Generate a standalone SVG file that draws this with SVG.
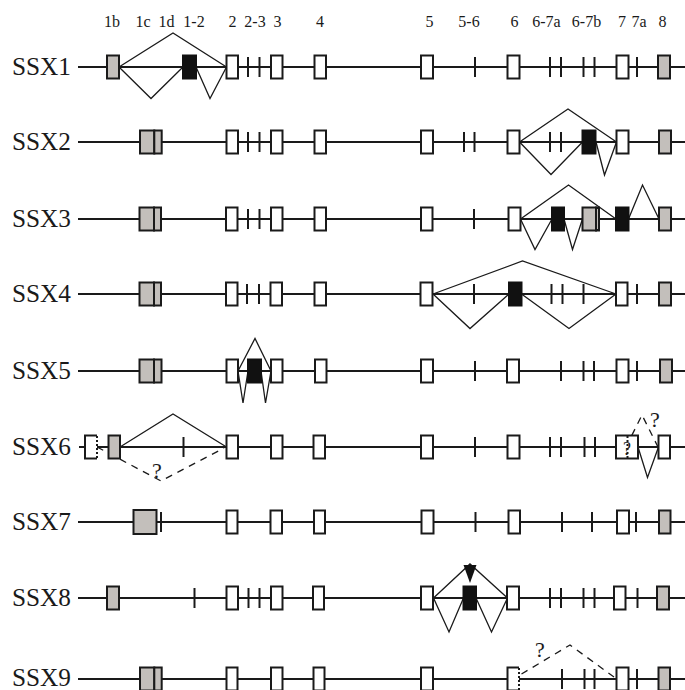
<svg xmlns="http://www.w3.org/2000/svg" width="685" height="690" viewBox="0 0 685 690">
<style>
.bb{stroke:#1a1a1a;stroke-width:2;fill:none}
.ex{fill:#fff;stroke:#1a1a1a;stroke-width:2}
.gr{fill:#c3bfbb;stroke:#1a1a1a;stroke-width:2}
.bk{fill:#111;stroke:#111;stroke-width:2}
.tk{stroke:#1a1a1a;stroke-width:2}
.sp{fill:none;stroke:#1a1a1a;stroke-width:1.3}
.ds{fill:none;stroke:#1a1a1a;stroke-width:1.3;stroke-dasharray:7 6}
.dt{stroke:#1a1a1a;stroke-width:2;stroke-dasharray:2 2}
.hd{font-family:"Liberation Serif",serif;font-size:16px;fill:#1a1a1a;text-anchor:middle}
.lb{font-family:"Liberation Serif",serif;font-size:25px;fill:#1a1a1a}
.q{font-family:"Liberation Serif",serif;font-size:22px;fill:#1a1a1a;text-anchor:middle}
</style>
<rect width="685" height="690" fill="#fff"/>
<g id="header">
<text class="hd" x="112" y="27">1b</text>
<text class="hd" x="143" y="27">1c</text>
<text class="hd" x="166.5" y="27">1d</text>
<text class="hd" x="194" y="27">1-2</text>
<text class="hd" x="232.5" y="27">2</text>
<text class="hd" x="255" y="27">2-3</text>
<text class="hd" x="277.5" y="27">3</text>
<text class="hd" x="320" y="27">4</text>
<text class="hd" x="429.5" y="27">5</text>
<text class="hd" x="469" y="27">5-6</text>
<text class="hd" x="514.5" y="27">6</text>
<text class="hd" x="546.5" y="27">6-7a</text>
<text class="hd" x="586.5" y="27">6-7b</text>
<text class="hd" x="622" y="27">7</text>
<text class="hd" x="639" y="27">7a</text>
<text class="hd" x="662.5" y="27">8</text>
</g>
<g id="connectors">
<polyline class="sp" points="119,67 173,33 226.5,67"/>
<polyline class="sp" points="119,67 151,98.5 183,67"/>
<polyline class="sp" points="196,67 210,98.5 226.5,67"/>
<polyline class="sp" points="519.5,142 568,109 616.5,142"/>
<polyline class="sp" points="519.5,142 551,174.5 582.5,142"/>
<polyline class="sp" points="596,142 604.5,175 616.5,142"/>
<polyline class="sp" points="520.5,219 568.5,185 616,219"/>
<polyline class="sp" points="628.5,219 642.5,185 659,219"/>
<polyline class="sp" points="520.5,219 535,249.5 552,219"/>
<polyline class="sp" points="564,219 572.5,249.5 582.5,219"/>
<polyline class="sp" points="433,294 522.5,261 616,294"/>
<polyline class="sp" points="433,294 470,328.5 509,294"/>
<polyline class="sp" points="521.5,294 569,328.5 616,294"/>
<polyline class="sp" points="238,371 255,338.5 271,371"/>
<polyline class="sp" points="238,371 243,403 248,371"/>
<polyline class="sp" points="261,371 265.5,403 271,371"/>
<polyline class="sp" points="120,447 173,414 226.5,447"/>
<polyline class="ds" points="97,447 161,481 224,448"/>
<text class="q" x="157" y="478">?</text>
<polyline class="ds" points="626,447 642,415 658,447"/>
<text class="q" x="655" y="427">?</text>
<polyline class="sp" points="638,447 647.5,477.5 658.5,447"/>
<polyline class="sp" points="433.5,598 470,564 507.5,598"/>
<polyline class="sp" points="433.5,598 449,632 463.5,598"/>
<polyline class="sp" points="476,598 491.5,632 507.5,598"/>
<polyline class="ds" points="521.5,674 570,645 614,677"/>
<text class="q" x="540" y="657">?</text>
</g>
<g id="SSX1">
<text class="lb" x="12" y="75" textLength="59" lengthAdjust="spacingAndGlyphs">SSX1</text>
<line class="bb" x1="78" y1="67" x2="685" y2="67"/>
<rect class="gr" x="107" y="55.5" width="12" height="23"/>
<rect class="bk" x="183" y="55.5" width="13" height="23"/>
<rect class="ex" x="226.5" y="55.5" width="11.5" height="23"/>
<line class="tk" x1="248" y1="57" x2="248" y2="77"/>
<line class="tk" x1="259.5" y1="57" x2="259.5" y2="77"/>
<rect class="ex" x="271" y="55.5" width="11.5" height="23"/>
<rect class="ex" x="314.5" y="55.5" width="11.5" height="23"/>
<rect class="ex" x="421" y="55.5" width="12" height="23"/>
<line class="tk" x1="475" y1="57" x2="475" y2="77"/>
<rect class="ex" x="507.5" y="55.5" width="12" height="23"/>
<line class="tk" x1="550" y1="57" x2="550" y2="77"/>
<line class="tk" x1="561" y1="57" x2="561" y2="77"/>
<line class="tk" x1="583.5" y1="57" x2="583.5" y2="77"/>
<line class="tk" x1="594.5" y1="57" x2="594.5" y2="77"/>
<rect class="ex" x="616.5" y="55.5" width="12" height="23"/>
<line class="tk" x1="637" y1="57" x2="637" y2="77"/>
<rect class="gr" x="658" y="55.5" width="12" height="23"/>
</g>
<g id="SSX2">
<text class="lb" x="12" y="150" textLength="59" lengthAdjust="spacingAndGlyphs">SSX2</text>
<line class="bb" x1="78" y1="142" x2="685" y2="142"/>
<rect class="gr" x="140" y="130.5" width="14.3" height="23"/>
<rect class="gr" x="154.3" y="130.5" width="7.4" height="23"/>
<rect class="ex" x="226.5" y="130.5" width="11.5" height="23"/>
<line class="tk" x1="248" y1="132" x2="248" y2="152"/>
<line class="tk" x1="259.5" y1="132" x2="259.5" y2="152"/>
<rect class="ex" x="271" y="130.5" width="11.5" height="23"/>
<rect class="ex" x="314.5" y="130.5" width="11.5" height="23"/>
<rect class="ex" x="421" y="130.5" width="12" height="23"/>
<line class="tk" x1="464" y1="132" x2="464" y2="152"/>
<line class="tk" x1="474.5" y1="132" x2="474.5" y2="152"/>
<rect class="ex" x="507.5" y="130.5" width="12" height="23"/>
<line class="tk" x1="550" y1="132" x2="550" y2="152"/>
<line class="tk" x1="561" y1="132" x2="561" y2="152"/>
<rect class="bk" x="582.5" y="130.5" width="13" height="23"/>
<rect class="ex" x="616.5" y="130.5" width="12" height="23"/>
<rect class="gr" x="659" y="130.5" width="12" height="23"/>
</g>
<g id="SSX3">
<text class="lb" x="12" y="227" textLength="59" lengthAdjust="spacingAndGlyphs">SSX3</text>
<line class="bb" x1="78" y1="219" x2="685" y2="219"/>
<rect class="gr" x="139.5" y="207.5" width="14.5" height="23"/>
<rect class="gr" x="154" y="207.5" width="7" height="23"/>
<rect class="ex" x="226" y="207.5" width="11.5" height="23"/>
<line class="tk" x1="248" y1="209" x2="248" y2="229"/>
<line class="tk" x1="259.5" y1="209" x2="259.5" y2="229"/>
<rect class="ex" x="271" y="207.5" width="11.5" height="23"/>
<rect class="ex" x="314.5" y="207.5" width="11.5" height="23"/>
<rect class="ex" x="421" y="207.5" width="11.5" height="23"/>
<line class="tk" x1="474" y1="209" x2="474" y2="229"/>
<rect class="ex" x="508.5" y="207.5" width="12" height="23"/>
<rect class="bk" x="552" y="207.5" width="12" height="23"/>
<rect class="gr" x="582.5" y="207.5" width="13.5" height="23"/>
<rect class="gr" x="596" y="207.5" width="3" height="23"/>
<rect class="bk" x="616" y="207.5" width="12.5" height="23"/>
<rect class="gr" x="659" y="207.5" width="12" height="23"/>
</g>
<g id="SSX4">
<text class="lb" x="12" y="302" textLength="59" lengthAdjust="spacingAndGlyphs">SSX4</text>
<line class="bb" x1="78" y1="294" x2="685" y2="294"/>
<rect class="gr" x="139.5" y="282.5" width="14.5" height="23"/>
<rect class="gr" x="154" y="282.5" width="7" height="23"/>
<rect class="ex" x="226" y="282.5" width="11.5" height="23"/>
<line class="tk" x1="247" y1="284" x2="247" y2="304"/>
<line class="tk" x1="259" y1="284" x2="259" y2="304"/>
<rect class="ex" x="270.5" y="282.5" width="11.5" height="23"/>
<rect class="ex" x="314.5" y="282.5" width="11.5" height="23"/>
<rect class="ex" x="420.5" y="282.5" width="12" height="23"/>
<line class="tk" x1="474" y1="284" x2="474" y2="304"/>
<rect class="bk" x="509" y="282.5" width="12.5" height="23"/>
<line class="tk" x1="551.5" y1="284" x2="551.5" y2="304"/>
<line class="tk" x1="562.5" y1="284" x2="562.5" y2="304"/>
<line class="tk" x1="583.5" y1="284" x2="583.5" y2="304"/>
<rect class="ex" x="616" y="282.5" width="11.5" height="23"/>
<line class="tk" x1="637" y1="284" x2="637" y2="304"/>
<rect class="gr" x="659" y="282.5" width="12" height="23"/>
</g>
<g id="SSX5">
<text class="lb" x="12" y="379" textLength="59" lengthAdjust="spacingAndGlyphs">SSX5</text>
<line class="bb" x1="78" y1="371" x2="685" y2="371"/>
<rect class="gr" x="139.5" y="359.5" width="14.5" height="23"/>
<rect class="gr" x="154" y="359.5" width="7.5" height="23"/>
<rect class="ex" x="226.5" y="359.5" width="11.5" height="23"/>
<rect class="bk" x="248" y="359.5" width="13" height="23"/>
<rect class="ex" x="271" y="359.5" width="11.5" height="23"/>
<rect class="ex" x="315" y="359.5" width="11.5" height="23"/>
<rect class="ex" x="421" y="359.5" width="12" height="23"/>
<line class="tk" x1="475" y1="361" x2="475" y2="381"/>
<rect class="ex" x="507" y="359.5" width="12" height="23"/>
<line class="tk" x1="561" y1="361" x2="561" y2="381"/>
<line class="tk" x1="583.5" y1="361" x2="583.5" y2="381"/>
<line class="tk" x1="594" y1="361" x2="594" y2="381"/>
<rect class="ex" x="616.5" y="359.5" width="12" height="23"/>
<line class="tk" x1="637" y1="361" x2="637" y2="381"/>
<rect class="gr" x="660" y="359.5" width="12" height="23"/>
</g>
<g id="SSX6">
<text class="lb" x="12" y="455" textLength="59" lengthAdjust="spacingAndGlyphs">SSX6</text>
<line class="bb" x1="79" y1="447" x2="85" y2="447"/>
<line class="bb" x1="97" y1="447" x2="685" y2="447"/>
<rect x="85" y="435.5" width="12" height="23" fill="#fff"/>
<path class="bb" d="M97,435.5 H85 V458.5 H97"/>
<line class="dt" x1="97" y1="436" x2="97" y2="458"/>
<rect class="gr" x="108.5" y="435.5" width="11.5" height="23"/>
<line class="tk" x1="183.5" y1="437" x2="183.5" y2="457"/>
<rect class="ex" x="226.5" y="435.5" width="11.5" height="23"/>
<rect class="ex" x="271" y="435.5" width="11.5" height="23"/>
<rect class="ex" x="313.5" y="435.5" width="11.5" height="23"/>
<rect class="ex" x="421" y="435.5" width="12" height="23"/>
<line class="tk" x1="475" y1="437" x2="475" y2="457"/>
<rect class="ex" x="507.5" y="435.5" width="12" height="23"/>
<line class="tk" x1="550" y1="437" x2="550" y2="457"/>
<line class="tk" x1="561" y1="437" x2="561" y2="457"/>
<line class="tk" x1="584.5" y1="437" x2="584.5" y2="457"/>
<line class="tk" x1="595" y1="437" x2="595" y2="457"/>
<rect class="ex" x="616" y="435.5" width="22" height="23"/>
<line class="dt" x1="627.5" y1="436" x2="627.5" y2="458"/>
<text class="q" x="627" y="455" style="font-size:18px">?</text>
<rect class="ex" x="658.5" y="435.5" width="11.5" height="23"/>
</g>
<g id="SSX7">
<text class="lb" x="12" y="530" textLength="59" lengthAdjust="spacingAndGlyphs">SSX7</text>
<line class="bb" x1="78" y1="522" x2="685" y2="522"/>
<rect class="gr" x="133.5" y="510" width="23" height="24"/>
<line class="tk" x1="161" y1="512" x2="161" y2="532"/>
<rect class="ex" x="226.5" y="510.5" width="11" height="23"/>
<rect class="ex" x="270.5" y="510.5" width="11.5" height="23"/>
<rect class="ex" x="314" y="510.5" width="11" height="23"/>
<rect class="ex" x="421.5" y="510.5" width="12" height="23"/>
<line class="tk" x1="475.5" y1="512" x2="475.5" y2="532"/>
<rect class="ex" x="508.5" y="510.5" width="11.5" height="23"/>
<line class="tk" x1="562" y1="512" x2="562" y2="532"/>
<line class="tk" x1="592" y1="512" x2="592" y2="532"/>
<rect class="ex" x="617" y="510.5" width="12" height="23"/>
<line class="tk" x1="636" y1="512" x2="636" y2="532"/>
<rect class="gr" x="659" y="510.5" width="11.5" height="23"/>
</g>
<g id="SSX8">
<text class="lb" x="12" y="606" textLength="59" lengthAdjust="spacingAndGlyphs">SSX8</text>
<line class="bb" x1="78" y1="598" x2="685" y2="598"/>
<rect class="gr" x="107" y="586.5" width="12" height="23"/>
<line class="tk" x1="194.5" y1="588" x2="194.5" y2="608"/>
<rect class="ex" x="226.5" y="586.5" width="11.5" height="23"/>
<line class="tk" x1="248.5" y1="588" x2="248.5" y2="608"/>
<line class="tk" x1="259.5" y1="588" x2="259.5" y2="608"/>
<rect class="ex" x="271" y="586.5" width="11.5" height="23"/>
<rect class="ex" x="313" y="586.5" width="11" height="23"/>
<rect class="ex" x="421" y="586.5" width="12" height="23"/>
<rect class="bk" x="463.5" y="586.5" width="12.5" height="23"/>
<polygon points="463.5,565 476.5,565 470,583" fill="#111"/>
<rect class="ex" x="507" y="586.5" width="12" height="23"/>
<line class="tk" x1="550" y1="588" x2="550" y2="608"/>
<line class="tk" x1="561" y1="588" x2="561" y2="608"/>
<line class="tk" x1="583.5" y1="588" x2="583.5" y2="608"/>
<line class="tk" x1="594.5" y1="588" x2="594.5" y2="608"/>
<rect class="ex" x="614" y="586.5" width="11.5" height="23"/>
<line class="tk" x1="637.5" y1="588" x2="637.5" y2="608"/>
<rect class="gr" x="657" y="586.5" width="12" height="23"/>
</g>
<g id="SSX9">
<text class="lb" x="12" y="685.5" textLength="59" lengthAdjust="spacingAndGlyphs">SSX9</text>
<line class="bb" x1="78" y1="679" x2="685" y2="679"/>
<rect class="gr" x="140" y="667.5" width="14.3" height="23"/>
<rect class="gr" x="154.3" y="667.5" width="7.4" height="23"/>
<rect class="ex" x="226.5" y="667.5" width="11" height="23"/>
<rect class="ex" x="271" y="667.5" width="11.5" height="23"/>
<rect class="ex" x="313.5" y="667.5" width="11" height="23"/>
<rect class="ex" x="421" y="667.5" width="12" height="23"/>
<rect x="507.5" y="667.5" width="11.5" height="23" fill="#fff"/>
<path class="bb" d="M519,667.5 H507.5 V690.5 H519"/>
<line class="dt" x1="519" y1="668" x2="519" y2="690"/>
<line class="tk" x1="562" y1="669" x2="562" y2="689"/>
<line class="tk" x1="584.5" y1="669" x2="584.5" y2="689"/>
<line class="tk" x1="594.5" y1="669" x2="594.5" y2="689"/>
<rect class="ex" x="616.5" y="667.5" width="12" height="23"/>
<line class="tk" x1="637" y1="669" x2="637" y2="689"/>
<rect class="gr" x="658.5" y="667.5" width="11.5" height="23"/>
</g>
</svg>
